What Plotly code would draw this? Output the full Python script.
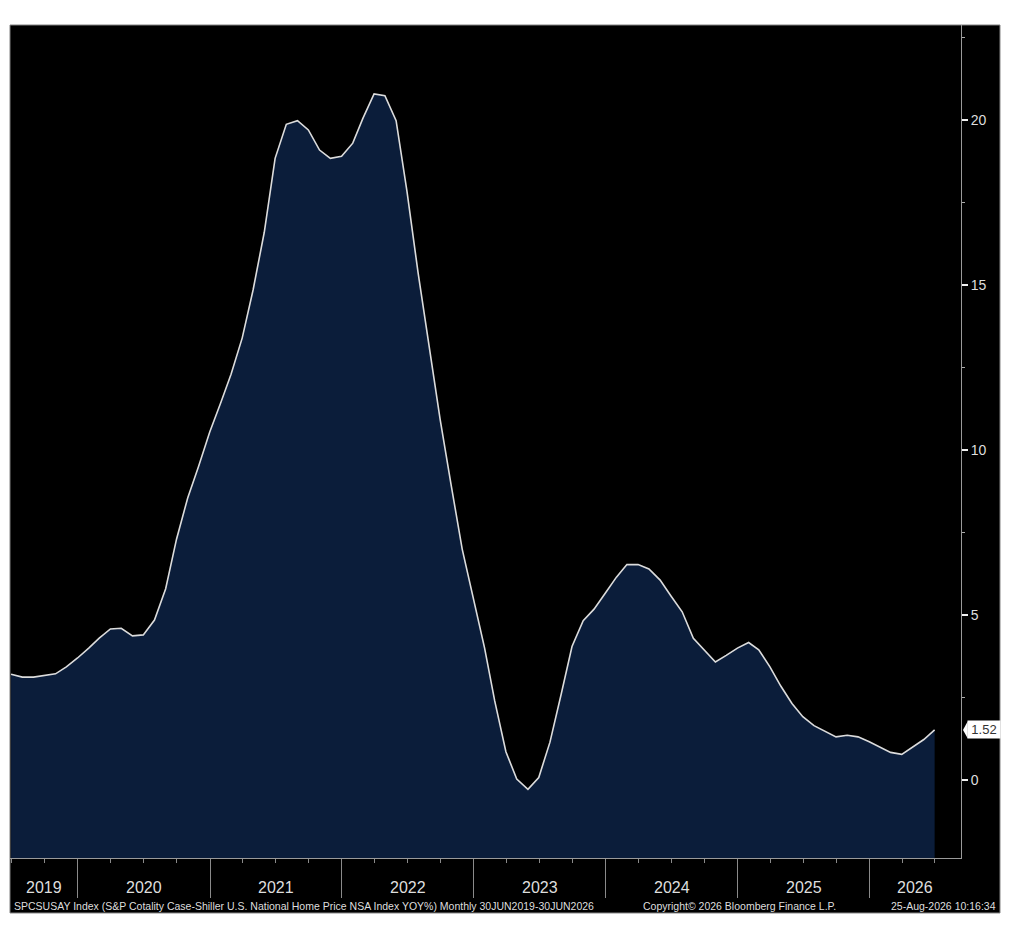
import pandas as pd
import plotly.graph_objects as go

# monthly YoY %, 30JUN2019 - 30JUN2026 (month-end)
dates = pd.date_range("2019-06-30", "2026-06-30", freq="ME")
yoy = [
    3.21, 3.12, 3.12, 3.18, 3.22, 3.43, 3.70,                     # 2019 Jun-Dec
    4.00, 4.30, 4.58, 4.60, 4.37, 4.40, 4.85, 5.80, 7.30, 8.55, 9.50, 10.55,  # 2020
    11.45, 12.30, 13.40, 14.85, 16.60, 18.84, 19.87, 19.98, 19.70, 19.09, 18.84, 18.90,  # 2021
    19.30, 20.05, 20.79, 20.74, 19.98, 17.85, 15.36, 13.10, 10.92, 8.90, 7.00, 5.50,  # 2022
    4.00, 2.40, 0.86, 0.03, -0.28, 0.08, 1.15, 2.60, 4.05, 4.83, 5.18, 5.66,  # 2023
    6.15, 6.53, 6.53, 6.40, 6.06, 5.58, 5.10, 4.30, 3.93, 3.58, 3.78, 4.00,  # 2024
    4.17, 3.95, 3.43, 2.85, 2.32, 1.92, 1.65, 1.48, 1.31, 1.36, 1.31, 1.16,  # 2025
    0.98, 0.84, 0.78, 1.01, 1.23, 1.52,                            # 2026 Jan-Jun
]
years = [2019, 2020, 2021, 2022, 2023, 2024, 2025, 2026]
y_ticks = [0, 5, 10, 15, 20]
last_label = "1.52"

footer_left = ("SPCSUSAY Index (S&P Cotality Case-Shiller U.S. National Home Price "
               "NSA Index YOY%) Monthly 30JUN2019-30JUN2026")
footer_mid = "Copyright\u00a9 2026 Bloomberg Finance L.P."
footer_right = "25-Aug-2026 10:16:34"

Y_MIN, Y_MAX = -2.36, 22.88
X_START, X_END = pd.Timestamp("2019-06-27"), pd.Timestamp("2026-09-11")

NAVY = "#0b1d3a"
LINE = "#dcdcdc"
TXT = "#dedede"
FONT = "Liberation Sans"

fig = go.Figure()
# baseline so the area fills down to the bottom of the plot
fig.add_trace(go.Scatter(x=dates, y=[Y_MIN] * len(dates), mode="lines",
                         line=dict(width=0), hoverinfo="skip", showlegend=False))
fig.add_trace(go.Scatter(x=dates, y=yoy, mode="lines", fill="tonexty",
                         fillcolor=NAVY, line=dict(color=LINE, width=1.6),
                         showlegend=False))

# year dividers as long major ticks, quarters as minor ticks
year_starts = [pd.Timestamp(f"{y}-01-01") for y in years[1:]]
fig.update_xaxes(
    range=[X_START, X_END], type="date",
    tickvals=year_starts, showticklabels=False,
    ticks="outside", ticklen=39, tickwidth=1, tickcolor="#8a8a8a",
    minor=dict(ticks="outside", ticklen=4, tickwidth=1, tickcolor="#8a8a8a",
               dtick="M3", tick0="2019-10-01"),
    showgrid=False, zeroline=False,
    showline=True, linecolor="#9a9a9a", linewidth=1,
)
fig.update_yaxes(
    range=[Y_MIN, Y_MAX], side="right",
    tickvals=y_ticks, ticks="outside", ticklen=6, tickwidth=2, tickcolor="#f0f0f0",
    minor=dict(ticks="outside", ticklen=3, tickwidth=1, tickcolor="#aaaaaa", dtick=2.5),
    tickfont=dict(family=FONT, size=14, color=TXT),
    showgrid=False, zeroline=False,
    showline=True, linecolor="#9a9a9a", linewidth=1,
)

# year labels centred in each visible year span
bounds = [X_START] + year_starts + [X_END]
annotations = []
for i, yr in enumerate(years):
    mid = bounds[i] + (bounds[i + 1] - bounds[i]) / 2
    annotations.append(dict(x=mid, y=-0.036, xref="x", yref="paper", text=str(yr),
                            showarrow=False, yanchor="middle",
                            font=dict(family=FONT, size=16, color=TXT)))

annotations += [
    dict(x=0.0021, y=-0.0576, xref="paper", yref="paper", text=footer_left,
         xanchor="left", yanchor="middle", showarrow=False,
         font=dict(family=FONT, size=10.5, color=TXT)),
    dict(x=0.7676, y=-0.0576, xref="paper", yref="paper", text=footer_mid,
         xanchor="center", yanchor="middle", showarrow=False,
         font=dict(family=FONT, size=10.5, color=TXT)),
    dict(x=1.0389, y=-0.0576, xref="paper", yref="paper", text=footer_right,
         xanchor="right", yanchor="middle", showarrow=False,
         font=dict(family=FONT, size=10.5, color=TXT)),
    # last value tag
    dict(x=1.0068, y=yoy[-1], xref="paper", yref="y", text=last_label,
         xanchor="left", yanchor="middle", showarrow=False, bgcolor="white",
         width=32, height=17, align="center", borderpad=0,
         font=dict(family=FONT, size=13, color="#333333")),
]

shapes = [
    # black panel behind plot and label strip
    dict(type="rect", xref="paper", yref="paper", x0=0, x1=1.041, y0=-0.066, y1=1,
         fillcolor="black", line=dict(color="#808080", width=1), layer="below"),
    # pointer of the last value tag
    dict(type="path", xref="paper", yref="y",
         path=f"M 1.0021 {yoy[-1]} L 1.0071 {yoy[-1] + 0.26} L 1.0071 {yoy[-1] - 0.26} Z",
         fillcolor="white", line=dict(width=0)),
]

# page body adds 8px, so the figure is 8px smaller and margins shifted
fig.update_layout(
    width=1016, height=926,
    margin=dict(l=2, r=63, t=17, b=76),
    paper_bgcolor="white", plot_bgcolor="black",
    annotations=annotations, shapes=shapes,
    hovermode=False,
)

fig.write_html("out.html")
